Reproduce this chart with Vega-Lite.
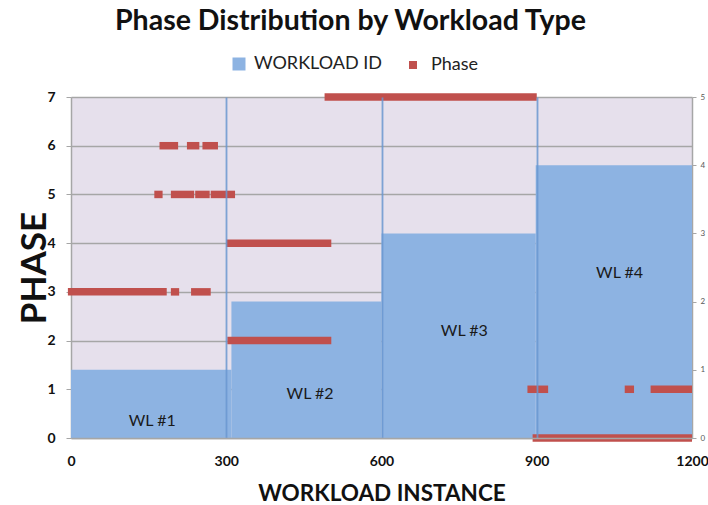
{
  "$schema": "https://vega.github.io/schema/vega-lite/v6.json",
  "width": 621,
  "height": 341,
  "autosize": {"type": "none"},
  "padding": {"left": 71, "top": 97, "right": 16, "bottom": 67},
  "background": "white",
  "config": {
    "font": "Lato",
    "view": {"fill": "#E6E0EC", "stroke": null}
  },
  "title": {
    "text": "Phase Distribution by Workload Type",
    "fontSize": 28.5,
    "fontWeight": "bold",
    "color": "#111111",
    "anchor": "middle",
    "frame": "group",
    "baseline": "alphabetic",
    "offset": -3,
    "dx": -31
  },
  "layer": [
    {
      "data": {
        "values": [
          {"series": "WORKLOAD ID", "wl": "WL #1", "start": 0, "end": 310, "id": 1, "lx": 157, "ly": 0.25},
          {"series": "WORKLOAD ID", "wl": "WL #2", "start": 310, "end": 600, "id": 2, "lx": 462, "ly": 0.65},
          {"series": "WORKLOAD ID", "wl": "WL #3", "start": 600, "end": 898, "id": 3, "lx": 760, "ly": 1.57},
          {"series": "WORKLOAD ID", "wl": "WL #4", "start": 898, "end": 1200, "id": 4, "lx": 1060, "ly": 2.42}
        ]
      },
      "layer": [
        {
          "mark": {"type": "bar", "opacity": 1},
          "encoding": {
            "x": {
              "field": "start", "type": "quantitative",
              "scale": {"domain": [0, 1200], "nice": false, "zero": false},
              "axis": {
                "values": [0, 300, 600, 900, 1200],
                "format": "d",
                "labelFlush": false,
                "title": "WORKLOAD INSTANCE",
                "titleFontSize": 22.5, "titleFontWeight": "bold", "titleColor": "#111111",
                "titleBaseline": "alphabetic", "titleY": 62,
                "labelFontSize": 14, "labelFontWeight": "bold", "labelColor": "#111111",
                "labelPadding": 16, "ticks": false,
                "domainColor": "#A6A6A6", "domainWidth": 1.5,
                "grid": true,
                "gridColor": {"condition": {"test": "datum.value % 1200 === 0", "value": "transparent"}, "value": "#6A97D0"},
                "gridWidth": 1.8,
                "gridOpacity": 0.85,
                "zindex": 1
              }
            },
            "x2": {"field": "end"},
            "y": {
              "field": "id", "type": "quantitative",
              "scale": {"domain": [0, 5], "nice": false},
              "axis": {
                "orient": "right", "title": null, "grid": false,
                "values": [0, 1, 2, 3, 4, 5],
                "format": "d",
                "labelFontSize": 8, "labelColor": "#595959",
                "tickSize": 4, "tickColor": "#A6A6A6", "labelPadding": 4,
                "domainColor": "#A6A6A6", "domainWidth": 1.5
              }
            },
            "y2": {"datum": 0},
            "color": {
              "field": "series", "type": "nominal",
              "scale": {"domain": ["WORKLOAD ID"], "range": ["#8DB3E2"]},
              "legend": {
                "title": null, "orient": "none", "legendX": 159, "legendY": -42,
                "symbolType": "square", "symbolSize": 169, "symbolStrokeWidth": 0,
                "labelFontSize": 18, "labelColor": "#222222", "labelOffset": 6, "padding": 0
              }
            }
          }
        },
        {
          "mark": {"type": "text", "fontSize": 16, "color": "#1a1a1a"},
          "encoding": {
            "x": {"field": "lx", "type": "quantitative"},
            "y": {"field": "ly", "type": "quantitative"},
            "text": {"field": "wl"}
          }
        }
      ]
    },
    {
      "data": {
        "values": [
          {"series": "Phase", "phase": 7, "start": 490, "end": 900},
          {"series": "Phase", "phase": 6, "start": 171, "end": 207},
          {"series": "Phase", "phase": 6, "start": 224, "end": 248},
          {"series": "Phase", "phase": 6, "start": 254, "end": 284},
          {"series": "Phase", "phase": 5, "start": 161, "end": 177},
          {"series": "Phase", "phase": 5, "start": 193, "end": 238},
          {"series": "Phase", "phase": 5, "start": 240, "end": 268},
          {"series": "Phase", "phase": 5, "start": 270, "end": 317},
          {"series": "Phase", "phase": 4, "start": 300, "end": 503},
          {"series": "Phase", "phase": 3, "start": -6, "end": 185},
          {"series": "Phase", "phase": 3, "start": 193, "end": 209},
          {"series": "Phase", "phase": 3, "start": 232, "end": 270},
          {"series": "Phase", "phase": 2, "start": 302, "end": 503},
          {"series": "Phase", "phase": 1, "start": 882, "end": 922},
          {"series": "Phase", "phase": 1, "start": 1070, "end": 1088},
          {"series": "Phase", "phase": 1, "start": 1120, "end": 1200},
          {"series": "Phase", "phase": 0, "start": 892, "end": 1200}
        ]
      },
      "mark": {"type": "rule", "strokeWidth": 7.5, "strokeCap": "butt"},
      "encoding": {
        "x": {"field": "start", "type": "quantitative"},
        "x2": {"field": "end"},
        "y": {
          "field": "phase", "type": "quantitative",
          "scale": {"domain": [0, 7], "nice": false},
          "axis": {
            "orient": "left", "title": "PHASE",
            "values": [0, 1, 2, 3, 4, 5, 6, 7],
            "titleFontSize": 35, "titleFontWeight": "bold", "titleColor": "#111111",
            "titleX": -19,
            "labelFontSize": 14, "labelFontWeight": "bold", "labelColor": "#111111",
            "tickSize": 5, "tickColor": "#A6A6A6", "labelPadding": 11,
            "domainColor": "#A6A6A6", "domainWidth": 1.5,
            "grid": true, "gridColor": "#A6A6A6", "gridWidth": 1.5
          }
        },
        "color": {
          "field": "series", "type": "nominal",
          "scale": {"domain": ["Phase"], "range": ["#C0504D"]},
          "legend": {
            "title": null, "orient": "none", "legendX": 333, "legendY": -41,
            "symbolType": "square", "symbolSize": 64,
            "labelFontSize": 18, "labelColor": "#222222", "labelOffset": 9, "padding": 0,
            "encode": {"symbols": {"update": {"fill": {"value": "#C0504D"}, "strokeWidth": {"value": 0}}}}
          }
        }
      }
    }
  ],
  "resolve": {
    "scale": {"y": "independent", "color": "independent"},
    "axis": {"y": "independent"}
  }
}
